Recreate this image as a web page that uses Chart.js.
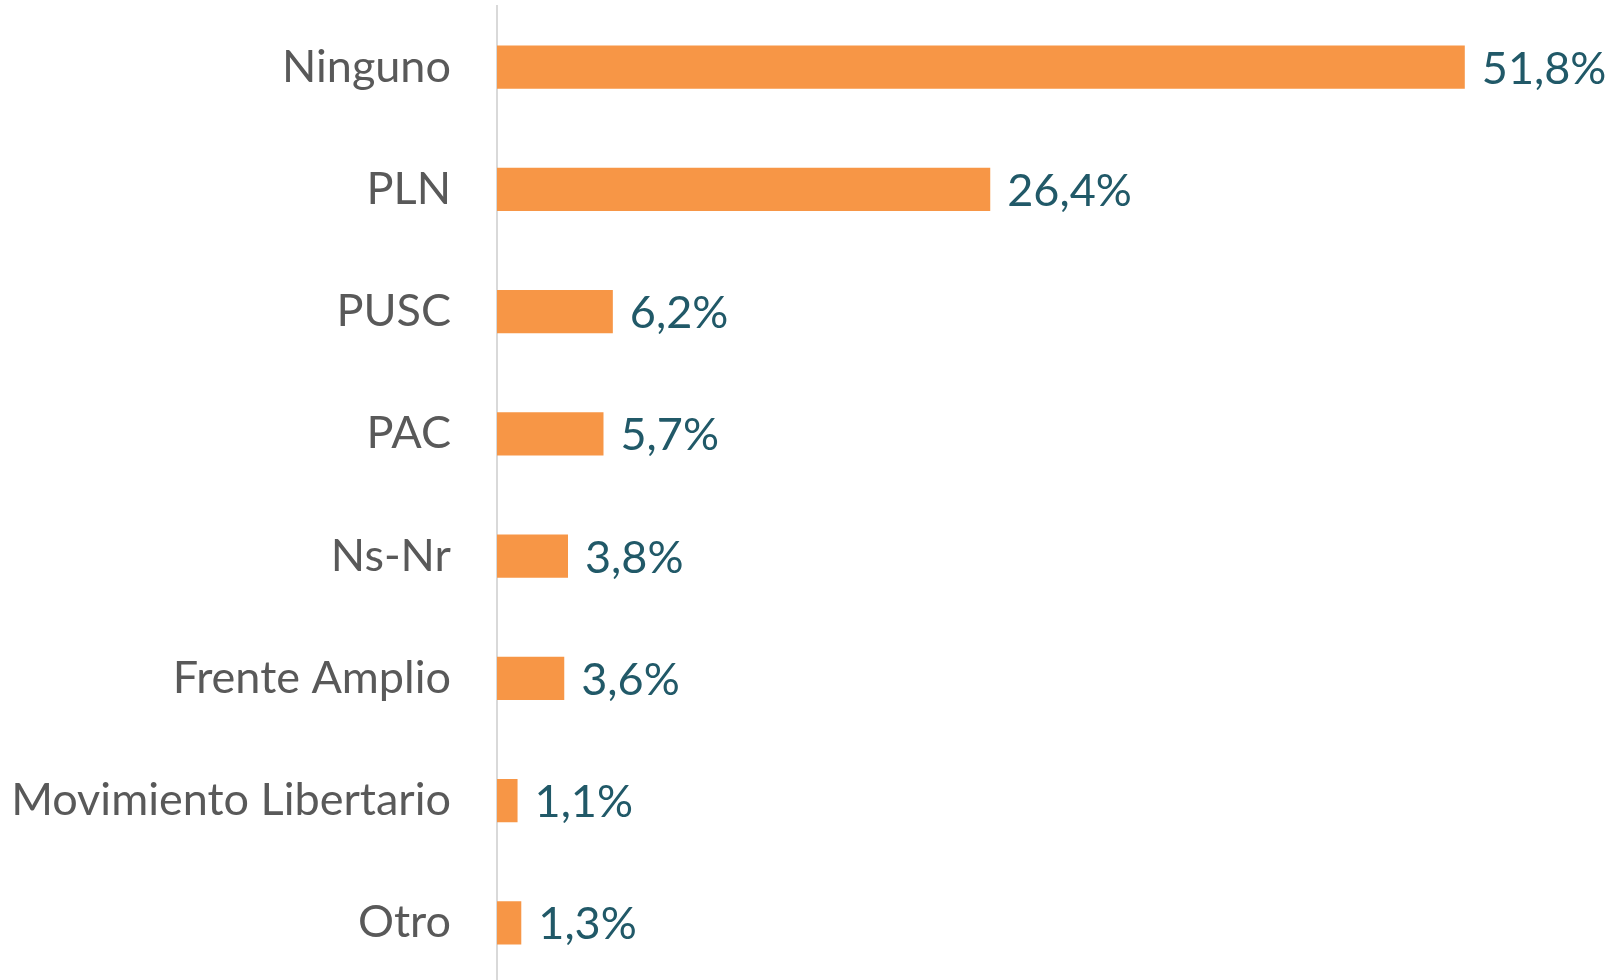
<!DOCTYPE html>
<html>
<head>
<meta charset="utf-8">
<script src="https://cdn.jsdelivr.net/npm/chart.js@4.4.1/dist/chart.umd.min.js"></script>
<style>
  html, body { margin: 0; padding: 0; background: #fff; overflow: hidden; }
  #wrap { width: 1618px; height: 984px; }
</style>
</head>
<body>
<div id="wrap"><canvas id="partyChart"></canvas></div>
<script>
const parties = ["Ninguno", "PLN", "PUSC", "PAC", "Ns-Nr", "Frente Amplio", "Movimiento Libertario", "Otro"];
const shares = [51.8, 26.4, 6.2, 5.7, 3.8, 3.6, 1.1, 1.3];

const labelFont = { family: "Lato, 'Open Sans', sans-serif", size: 45 };

// writes "51,8%" next to the end of each bar
const valueLabels = {
  id: "valueLabels",
  afterDatasetsDraw(chart) {
    const ctx = chart.ctx;
    const meta = chart.getDatasetMeta(0);
    ctx.save();
    ctx.font = labelFont.size + "px " + labelFont.family;
    ctx.fillStyle = "#215968";
    ctx.textAlign = "left";
    ctx.textBaseline = "middle";
    meta.data.forEach((bar, i) => {
      const txt = shares[i].toFixed(1).replace(".", ",") + "%";
      ctx.fillText(txt, bar.x + 17, bar.y + 2);
    });
    ctx.restore();
  },
};

const ctx = document.getElementById("partyChart").getContext("2d");
new Chart(ctx, {
  type: "bar",
  data: {
    labels: parties,
    datasets: [
      {
        data: shares,
        backgroundColor: "#F79646",
        borderWidth: 0,
        barPercentage: 0.355,
        categoryPercentage: 1,
      },
    ],
  },
  options: {
    indexAxis: "y",
    responsive: true,
    maintainAspectRatio: false,
    animation: false,
    layout: { padding: { top: 6, right: 0, bottom: 0, left: 0 } },
    plugins: {
      legend: { display: false },
      tooltip: { enabled: false },
    },
    scales: {
      x: {
        display: false,
        min: 0,
        max: 60,
      },
      y: {
        grid: { display: false, drawTicks: false },
        border: { display: true, color: "#D9D9D9", width: 2 },
        ticks: {
          color: "#595959",
          font: labelFont,
          padding: 46,
        },
        afterFit(scale) {
          scale.width = 497;
          // tick padding would otherwise shrink the plot vertically
          scale.paddingTop = 0;
          scale.paddingBottom = 0;
        },
      },
    },
  },
  plugins: [valueLabels],
});
</script>
</body>
</html>
